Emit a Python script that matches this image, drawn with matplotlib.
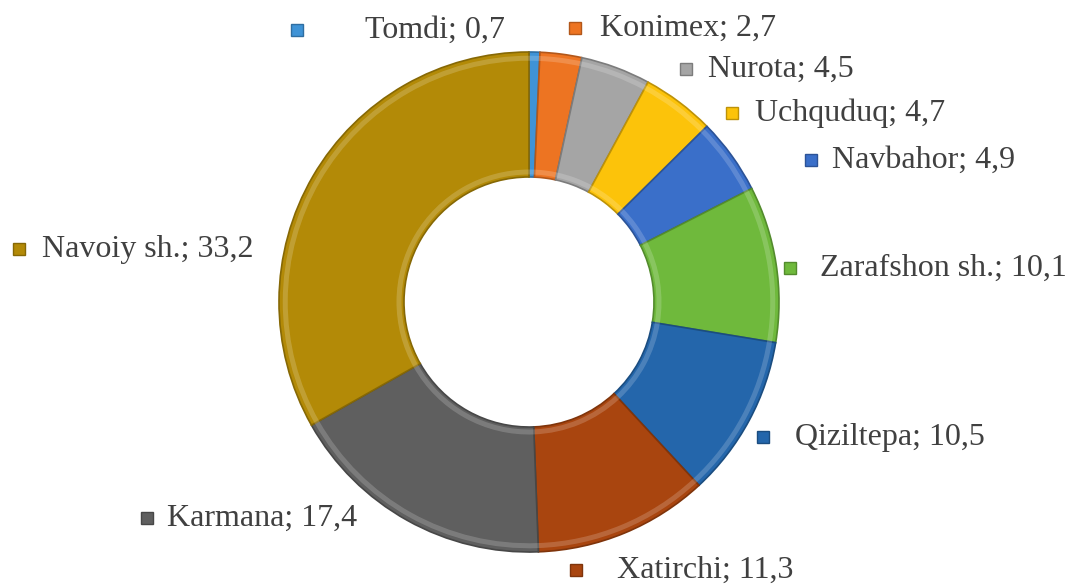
import matplotlib.pyplot as plt
import numpy as np

plt.rcParams['font.family'] = ['Liberation Serif', 'DejaVu Serif']

districts = ['Tomdi', 'Konimex', 'Nurota', 'Uchquduq', 'Navbahor',
             'Zarafshon sh.', 'Qiziltepa', 'Xatirchi', 'Karmana', 'Navoiy sh.']
shares = [0.7, 2.7, 4.5, 4.7, 4.9, 10.1, 10.5, 11.3, 17.4, 33.2]
colors = ['#3f93d6', '#ed7422', '#a5a5a5', '#fcc30a', '#3a6fc9',
          '#6fb93c', '#2466ab', '#a9450f', '#5f5f5f', '#b38a07']

# label anchor spots in pixels (marker x, text x, y)
label_pos = [(297, 365, 30), (575, 600, 28), (686, 708, 69), (732, 755, 113),
             (811, 832, 160), (790, 820, 268), (763, 795, 437), (576, 617, 570),
             (147, 167, 518), (19, 42, 249)]

W, H = 1068, 585
cx, cy, R = 529, 302, 250

def to_data(px, py):
    return (px - cx) / R, (cy - py) / R

fig = plt.figure(figsize=(W / 100, H / 100), dpi=100)
ax = fig.add_axes([0, 0, 1, 1])

edge = [tuple(np.clip(np.array(plt.matplotlib.colors.to_rgb(c)) * 0.75, 0, 1)) for c in colors]
wedges, _ = ax.pie(shares, colors=colors, startangle=90, counterclock=False,
                   radius=1.0, wedgeprops=dict(width=0.5, linewidth=1.2))
for w, e in zip(wedges, edge):
    w.set_edgecolor(e)

# soft highlight rings for the bevelled look
ax.pie(shares, colors=['white'] * len(shares), startangle=90, counterclock=False,
       radius=0.985, wedgeprops=dict(width=0.02, linewidth=0, alpha=0.18))
ax.pie(shares, colors=['white'] * len(shares), startangle=90, counterclock=False,
       radius=0.53, wedgeprops=dict(width=0.02, linewidth=0, alpha=0.18))

for name, val, c, e, (mx, tx, y) in zip(districts, shares, colors, edge, label_pos):
    mxd, myd = to_data(mx, y)
    ax.plot(mxd, myd, marker='s', ms=9, color=c, mec=e, mew=1)
    txd, tyd = to_data(tx, y)
    ax.text(txd, tyd, f"{name}; {str(val).replace('.', ',')}", fontsize=23,
            color='#404040', ha='left', va='center')

ax.set_xlim(-cx / R, (W - cx) / R)
ax.set_ylim(-(H - cy) / R, cy / R)
ax.set_aspect('equal')
ax.axis('off')

fig.savefig('out.png', dpi=100)
